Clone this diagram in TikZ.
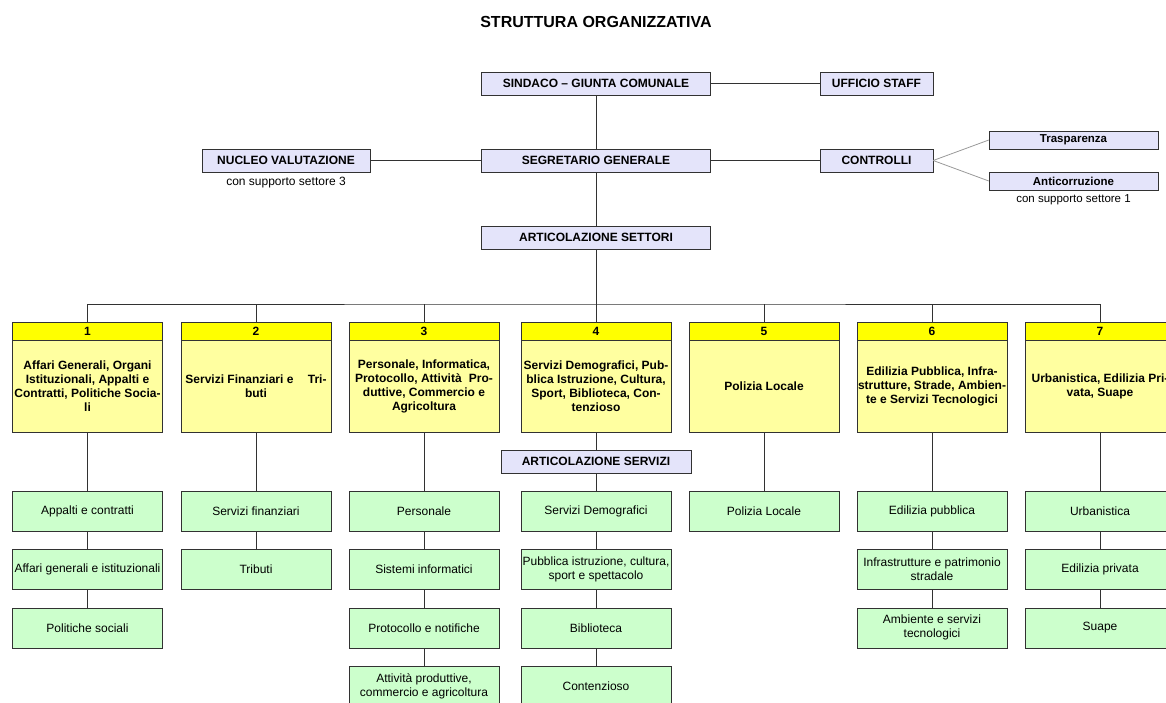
\documentclass[tikz,border=0pt]{standalone}
\usepackage{fontspec}
\setmainfont{Liberation Sans}
\usetikzlibrary{positioning}
\definecolor{lavbox}{RGB}{228,228,250}
\definecolor{hdryel}{RGB}{255,255,0}
\definecolor{bodyyel}{RGB}{255,255,160}
\definecolor{srvgreen}{RGB}{204,255,204}
\definecolor{edge}{RGB}{50,50,50}
\tikzset{
  topbox/.style={draw=edge, fill=lavbox, minimum height=23pt, inner sep=0pt,
    font=\bfseries\fontsize{12}{14}\selectfont},
  smallbox/.style={draw=edge, fill=lavbox, minimum width=169pt, minimum height=18pt,
    inner sep=0pt, font=\bfseries\fontsize{11.5}{13}\selectfont},
  hdr/.style={draw=edge, fill=hdryel, minimum width=150pt, minimum height=18pt,
    inner sep=0pt, font=\bfseries\fontsize{12}{14}\selectfont},
  secbody/.style={draw=edge, fill=bodyyel, minimum width=150pt, minimum height=92pt,
    inner sep=0.5pt, align=center, font=\bfseries\fontsize{12}{14}\selectfont},
  srv/.style={draw=edge, fill=srvgreen, minimum width=150pt, minimum height=40pt,
    inner sep=1pt, align=center, font=\fontsize{12}{14}\selectfont},
  link/.style={draw=edge, line width=1pt},
  thin link/.style={draw=black!40, line width=0.8pt},
  note/.style={inner sep=0pt, font=\fontsize{12}{14}\selectfont}
}
\begin{document}
\begin{tikzpicture}[x=1pt, y=-1pt]
\useasboundingbox (0,0) rectangle (1166,702);
\clip (0,0) rectangle (1166,702);
\node[font=\bfseries\fontsize{16}{18}\selectfont] (title) at (596,22) {STRUTTURA ORGANIZZATIVA};
% vertici
\node[topbox, minimum width=229pt] (sindaco) at (596,83.5) {SINDACO -- GIUNTA COMUNALE};
\node[topbox, minimum width=113pt] (staff) at (876.5,83.5) {UFFICIO STAFF};
\node[topbox, minimum width=229pt] (segretario) at (596,160.5) {SEGRETARIO GENERALE};
\node[topbox, minimum width=113pt] (controlli) at (876.5,160.5) {CONTROLLI};
\node[topbox, minimum width=168pt] (nucleo) at (286,160.5) {NUCLEO VALUTAZIONE};
\node[note, below=5pt of nucleo] (nucleonote) {con supporto settore 3};
\node[smallbox] (trasp) at (1073.5,140) {Trasparenza};
\node[smallbox] (antic) at (1073.5,181) {Anticorruzione};
\node[note, font=\fontsize{11.5}{13}\selectfont, below=4pt of antic] (anticnote) {con supporto settore 1};
\node[topbox, minimum width=229pt] (settori) at (596,237.5) {ARTICOLAZIONE SETTORI};
% settori
\node[hdr] (h1) at (87.5,331) {1};
\node[secbody, below=0pt of h1] (b1) {Affari Generali, Organi\\Istituzionali, Appalti e\\Contratti, Politiche Socia-\\li};
\node[hdr] (h2) at (256,331) {2};
\node[secbody, below=0pt of h2] (b2) {Servizi Finanziari e\hspace{1.2em}Tri-\\buti};
\node[hdr] (h3) at (424,331) {3};
\node[secbody, below=0pt of h3] (b3) {Personale, Informatica,\\Protocollo, Attività\hspace{0.6em}Pro-\\duttive, Commercio e\\Agricoltura};
\node[hdr] (h4) at (596,331) {4};
\node[secbody, below=0pt of h4] (b4) {Servizi Demografici, Pub-\\blica Istruzione, Cultura,\\Sport, Biblioteca, Con-\\tenzioso};
\node[hdr] (h5) at (764,331) {5};
\node[secbody, below=0pt of h5] (b5) {Polizia Locale};
\node[hdr] (h6) at (932,331) {6};
\node[secbody, below=0pt of h6] (b6) {Edilizia Pubblica, Infra-\\strutture, Strade, Ambien-\\te e Servizi Tecnologici};
\node[hdr] (h7) at (1100,331) {7};
\node[secbody, below=0pt of h7] (b7) {Urbanistica, Edilizia Pri-\\vata, Suape};
\node[topbox, minimum width=190pt] (servizi) at (596,461.5) {ARTICOLAZIONE SERVIZI};
% servizi
\node[srv] (a11) at (87.5,511) {Appalti e contratti};
\node[srv, below=18pt of a11] (a12) {Affari generali e istituzionali};
\node[srv, below=18pt of a12] (a13) {Politiche sociali};
\node[srv] (a21) at (256,511) {Servizi finanziari};
\node[srv, below=18pt of a21] (a22) {Tributi};
\node[srv] (a31) at (424,511) {Personale};
\node[srv, below=18pt of a31] (a32) {Sistemi informatici};
\node[srv, below=18pt of a32] (a33) {Protocollo e notifiche};
\node[srv, below=18pt of a33] (a34) {Attività produttive,\\commercio e agricoltura};
\node[srv] (a41) at (596,511) {Servizi Demografici};
\node[srv, below=18pt of a41] (a42) {Pubblica istruzione, cultura,\\sport e spettacolo};
\node[srv, below=18pt of a42] (a43) {Biblioteca};
\node[srv, below=18pt of a43] (a44) {Contenzioso};
\node[srv] (a51) at (764,511) {Polizia Locale};
\node[srv] (a61) at (932,511) {Edilizia pubblica};
\node[srv, below=18pt of a61] (a62) {Infrastrutture e patrimonio\\stradale};
\node[srv, below=18pt of a62] (a63) {Ambiente e servizi\\tecnologici};
\node[srv] (a71) at (1100,511) {Urbanistica};
\node[srv, below=18pt of a71] (a72) {Edilizia privata};
\node[srv, below=18pt of a72] (a73) {Suape};
% collegamenti
\coordinate (bus) at (596,304);
\draw[link] (sindaco) -- (staff);
\draw[link] (sindaco) -- (segretario) -- (settori);
\draw[link] (nucleo) -- (segretario) -- (controlli);
\draw[thin link] (controlli.east) -- (trasp.west);
\draw[thin link] (controlli.east) -- (antic.west);
\draw[link] (settori) -- (h4);
\draw[link] (h1.north) |- (bus) -| (h7.north);
\foreach \i in {2,3,5,6}
  \draw[link] (h\i.north) -- (h\i.north |- bus);
\draw[link] (b1) -- (a11) -- (a12) -- (a13);
\draw[link] (b2) -- (a21) -- (a22);
\draw[link] (b3) -- (a31) -- (a32) -- (a33) -- (a34);
\draw[link] (b4) -- (servizi) -- (a41) -- (a42) -- (a43) -- (a44);
\draw[link] (b5) -- (a51);
\draw[link] (b6) -- (a61) -- (a62) -- (a63);
\draw[link] (b7) -- (a71) -- (a72) -- (a73);
\end{tikzpicture}
\end{document}
